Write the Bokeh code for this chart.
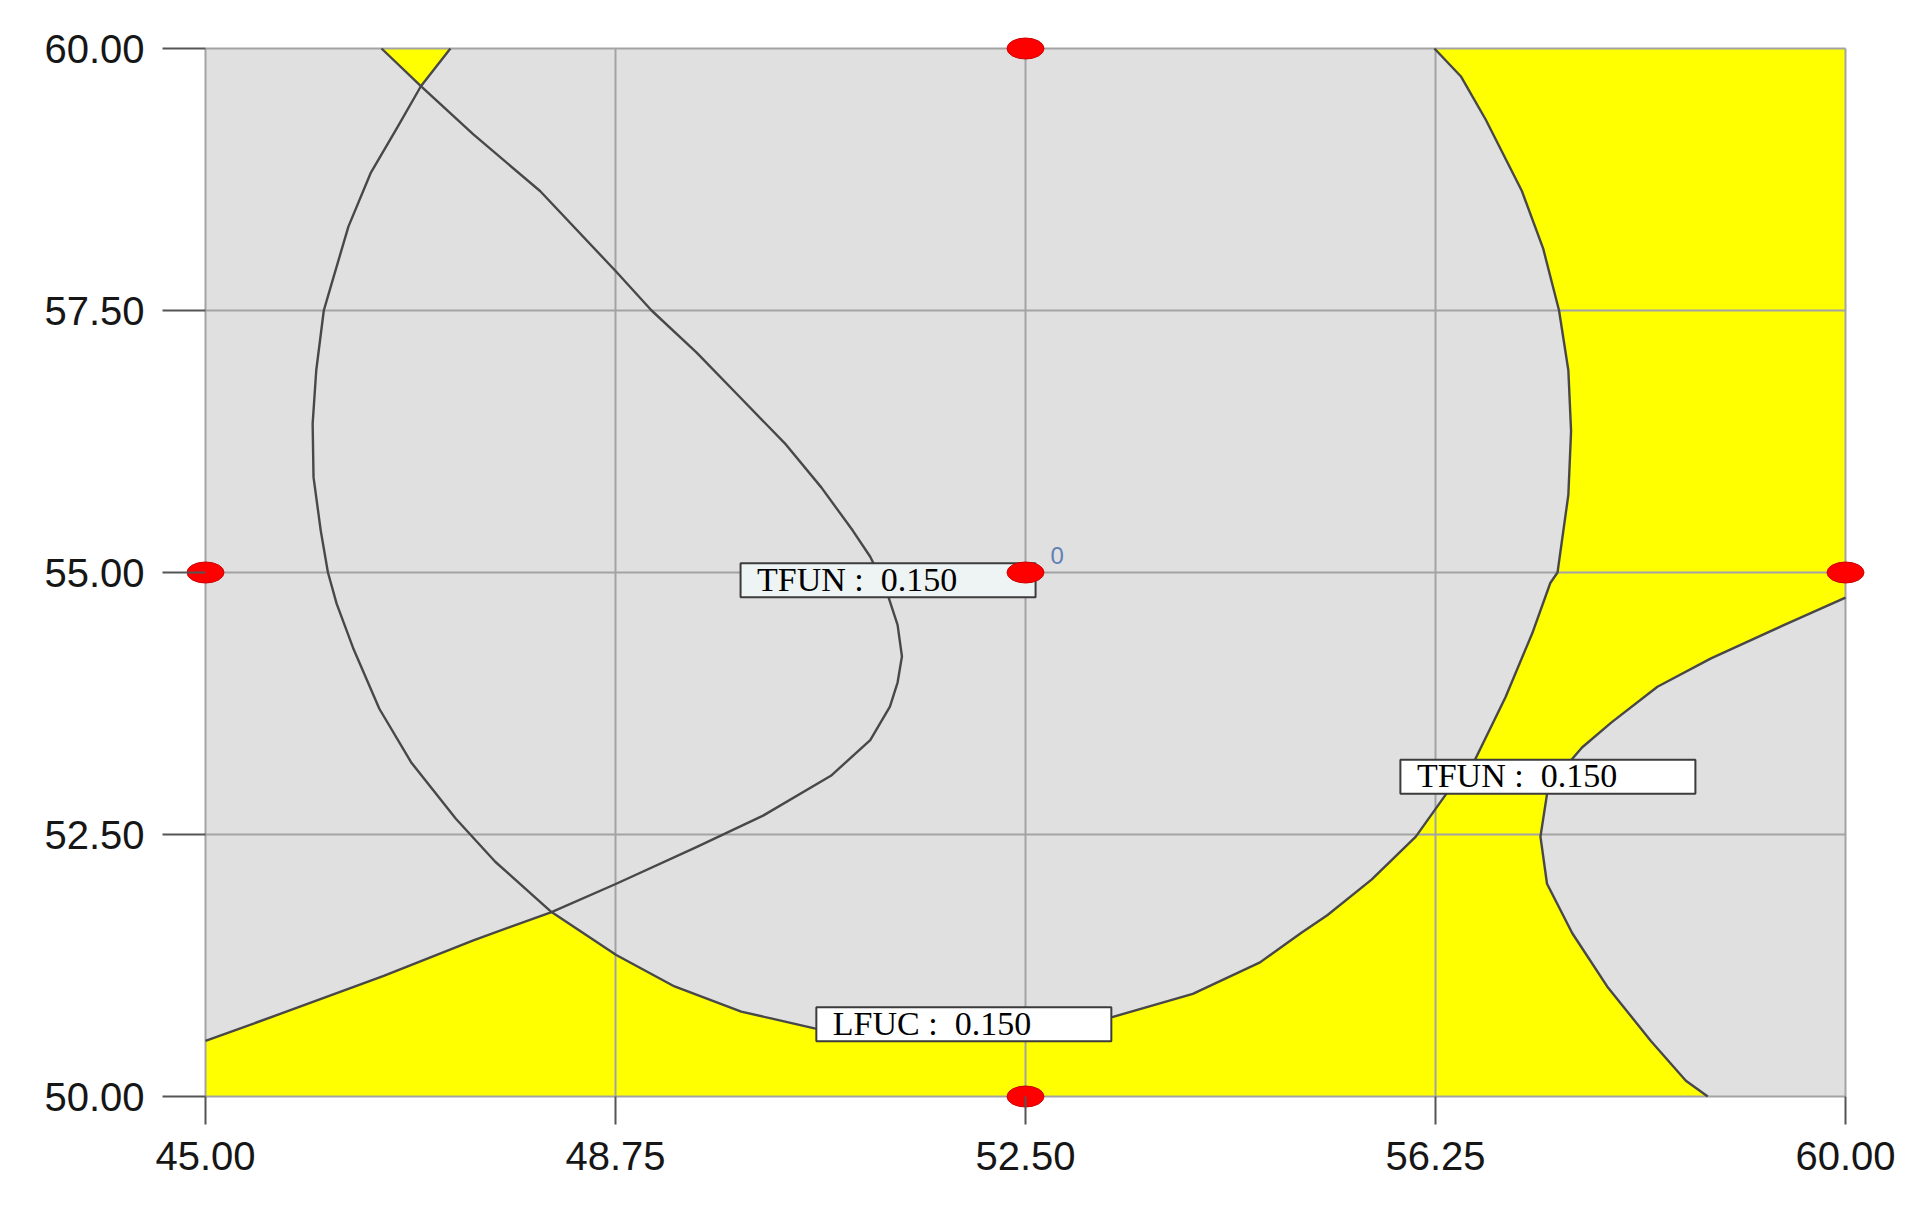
from bokeh.plotting import figure
from bokeh.models import Range1d, FixedTicker, NumeralTickFormatter, ColumnDataSource
from bokeh.core.properties import value
from bokeh.embed import file_html
from bokeh.resources import INLINE

# ---- axes -------------------------------------------------------------
x_ticks = [45.0, 48.75, 52.5, 56.25, 60.0]
x_tick_labels = ["45.00", "48.75", "52.50", "56.25", "60.00"]
y_ticks = [50.0, 52.5, 55.0, 57.5, 60.0]
y_tick_labels = ["50.00", "52.50", "55.00", "57.50", "60.00"]

# ---- contour LFUC = 0.150 (closed by the top edge) --------------------
lfuc_x = [47.24, 46.97, 46.756, 46.51, 46.307, 46.163, 46.082, 46.013, 45.98, 45.988,
          46.054, 46.12, 46.20, 46.35, 46.59, 46.88, 47.29, 47.65, 48.165, 48.757,
          49.29, 49.90, 50.57, 51.2, 51.9, 52.6, 53.30, 54.03, 54.645, 55.02,
          55.26, 55.665, 56.07, 56.35, 56.61, 56.89, 57.135, 57.30, 57.366, 57.465,
          57.49, 57.465, 57.38, 57.235, 57.04, 56.71, 56.485, 56.24]
lfuc_y = [60.0, 59.64, 59.25, 58.81, 58.30, 57.79, 57.50, 56.93, 56.42, 55.91,
          55.40, 55.0, 54.70, 54.28, 53.70, 53.19, 52.65, 52.24, 51.76, 51.35,
          51.05, 50.81, 50.65, 50.60, 50.59, 50.64, 50.76, 50.98, 51.28, 51.56,
          51.73, 52.07, 52.48, 52.89, 53.21, 53.81, 54.42, 54.90, 55.0, 55.74,
          56.35, 56.93, 57.50, 58.09, 58.64, 59.32, 59.73, 60.0]

# ---- contour TFUN = 0.150 (left branch) -------------------------------
tfun_left_x = [46.61, 46.97, 47.45, 48.06, 48.757, 49.08, 49.49, 49.90, 50.31, 50.634,
               50.92, 51.08, 51.22, 51.33, 51.37, 51.33, 51.26, 51.08, 50.72, 50.10,
               49.49, 48.757, 48.165, 47.45, 46.63, 45.82, 45.0]
tfun_left_y = [60.0, 59.64, 59.18, 58.64, 57.87, 57.50, 57.10, 56.66, 56.22, 55.81,
               55.40, 55.15, 54.85, 54.50, 54.20, 53.95, 53.72, 53.40, 53.06, 52.68,
               52.38, 52.03, 51.76, 51.49, 51.15, 50.84, 50.53]

# ---- contour TFUN = 0.150 (right branch) ------------------------------
tfun_right_x = [60.0, 59.42, 58.77, 58.28, 57.86, 57.59, 57.40, 57.27, 57.21, 57.27,
                57.50, 57.82, 58.22, 58.54, 58.74]
tfun_right_y = [54.76, 54.49, 54.18, 53.91, 53.57, 53.33, 53.10, 52.885, 52.48, 52.03,
                51.56, 51.05, 50.53, 50.15, 50.0]

# ---- design points ----------------------------------------------------
design_x = [52.5, 45.0, 52.5, 60.0, 52.5]
design_y = [60.0, 55.0, 55.0, 55.0, 50.0]
center_label = ["0"]

# ---- contour flags ----------------------------------------------------
label_text = ["TFUN : \u00a00.150", "TFUN : \u00a00.150", "LFUC : \u00a00.150"]
label_x = [51.243, 57.278, 51.936]
label_y = [54.927, 53.05, 50.689]
label_fill = ["#EEF3F3", "#FFFFFF", "#FFFFFF"]

# ----------------------------------------------------------------------
GRAY = "#E0E0E0"
YELLOW = "#FFFF00"

# plot area 1640 x 1048 px, with a small white pad so edge markers are not cut
FW, FH = 1640, 1048
PADX, PADY = 20, 14
x0, x1 = x_ticks[0], x_ticks[-1]
y0, y1 = y_ticks[0], y_ticks[-1]
dx = PADX * (x1 - x0) / FW
dy = PADY * (y1 - y0) / FH

p = figure(frame_width=FW + 2 * PADX, frame_height=FH + 2 * PADY,
           x_range=Range1d(x0 - dx, x1 + dx),
           y_range=Range1d(y0 - dy, y1 + dy),
           output_backend="svg", toolbar_location=None,
           min_border_left=205 - PADX, min_border_right=54 - PADX,
           min_border_top=48 - PADY, min_border_bottom=102 - PADY)
p.background_fill_color = "white"
p.border_fill_color = "white"
p.outline_line_color = None
p.xgrid.visible = False
p.ygrid.visible = False

# feasible (yellow) area, then gray non-feasible regions
bg = p.quad(left=[x0], right=[x1], bottom=[y0], top=[y1], fill_color=YELLOW, line_color=None)
bg.level = "image"
region_xs = [lfuc_x,
             tfun_left_x + [x0],
             tfun_right_x + [x1]]
region_ys = [lfuc_y,
             tfun_left_y + [y1],
             tfun_right_y + [y0]]
reg = p.patches(xs=region_xs, ys=region_ys, fill_color=GRAY, line_color=None)
reg.level = "image"

# grid lines
gx = p.segment(x0=x_ticks, y0=[y0] * len(x_ticks), x1=x_ticks, y1=[y1] * len(x_ticks),
               line_color="#A3A3A3", line_width=2)
gy = p.segment(x0=[x0] * len(y_ticks), y0=y_ticks, x1=[x1] * len(y_ticks), y1=y_ticks,
               line_color="#A3A3A3", line_width=2)
gx.level = "underlay"
gy.level = "underlay"

# contour lines
for cx, cy in ((lfuc_x, lfuc_y), (tfun_left_x, tfun_left_y), (tfun_right_x, tfun_right_y)):
    p.line(cx, cy, line_color="#484848", line_width=2.4, line_join="round")

# flags
src = ColumnDataSource(dict(x=label_x, y=label_y, text=label_text, fill=label_fill))
p.rect(x="x", y="y", width=295, height=34, width_units="screen", height_units="screen",
       fill_color="fill", line_color="#3C3C3C", line_width=2, source=src)
p.text(x="x", y="y", text="text", source=src, x_offset=-131, y_offset=-1,
       text_font=value("Liberation Serif"), text_font_size="34px",
       text_color="#000000", text_baseline="alphabetic", text_align="left")

# design points
p.ellipse(x=design_x, y=design_y, width=37, height=21,
          width_units="screen", height_units="screen",
          fill_color="#FF0000", line_color="#D00000", line_width=1)
p.text(x=[design_x[2]], y=[design_y[2]], text=center_label,
       x_offset=25, y_offset=-17, text_font=value("Liberation Sans"),
       text_font_size="24px", text_color="#6280B5",
       text_baseline="alphabetic", text_align="left")

# axes on the padded frame; inner ticks reach the plot-area edge
p.xaxis.ticker = FixedTicker(ticks=x_ticks)
p.yaxis.ticker = FixedTicker(ticks=y_ticks)
for ax in (p.xaxis[0], p.yaxis[0]):
    ax.formatter = NumeralTickFormatter(format="0.00")
    ax.axis_line_color = None
    ax.minor_tick_in = 0
    ax.minor_tick_out = 0
    ax.major_tick_line_color = "#555555"
    ax.major_tick_line_width = 2
    ax.major_label_text_font = "Liberation Sans"
    ax.major_label_text_font_size = "40px"
    ax.major_label_text_color = "#161616"
p.xaxis.major_tick_in = PADY
p.xaxis.major_tick_out = 28 - PADY
p.yaxis.major_tick_in = PADX
p.yaxis.major_tick_out = 43 - PADX
p.xaxis.major_label_standoff = 17
p.yaxis.major_label_standoff = 18

open("out.html", "w").write(file_html(p, INLINE))
